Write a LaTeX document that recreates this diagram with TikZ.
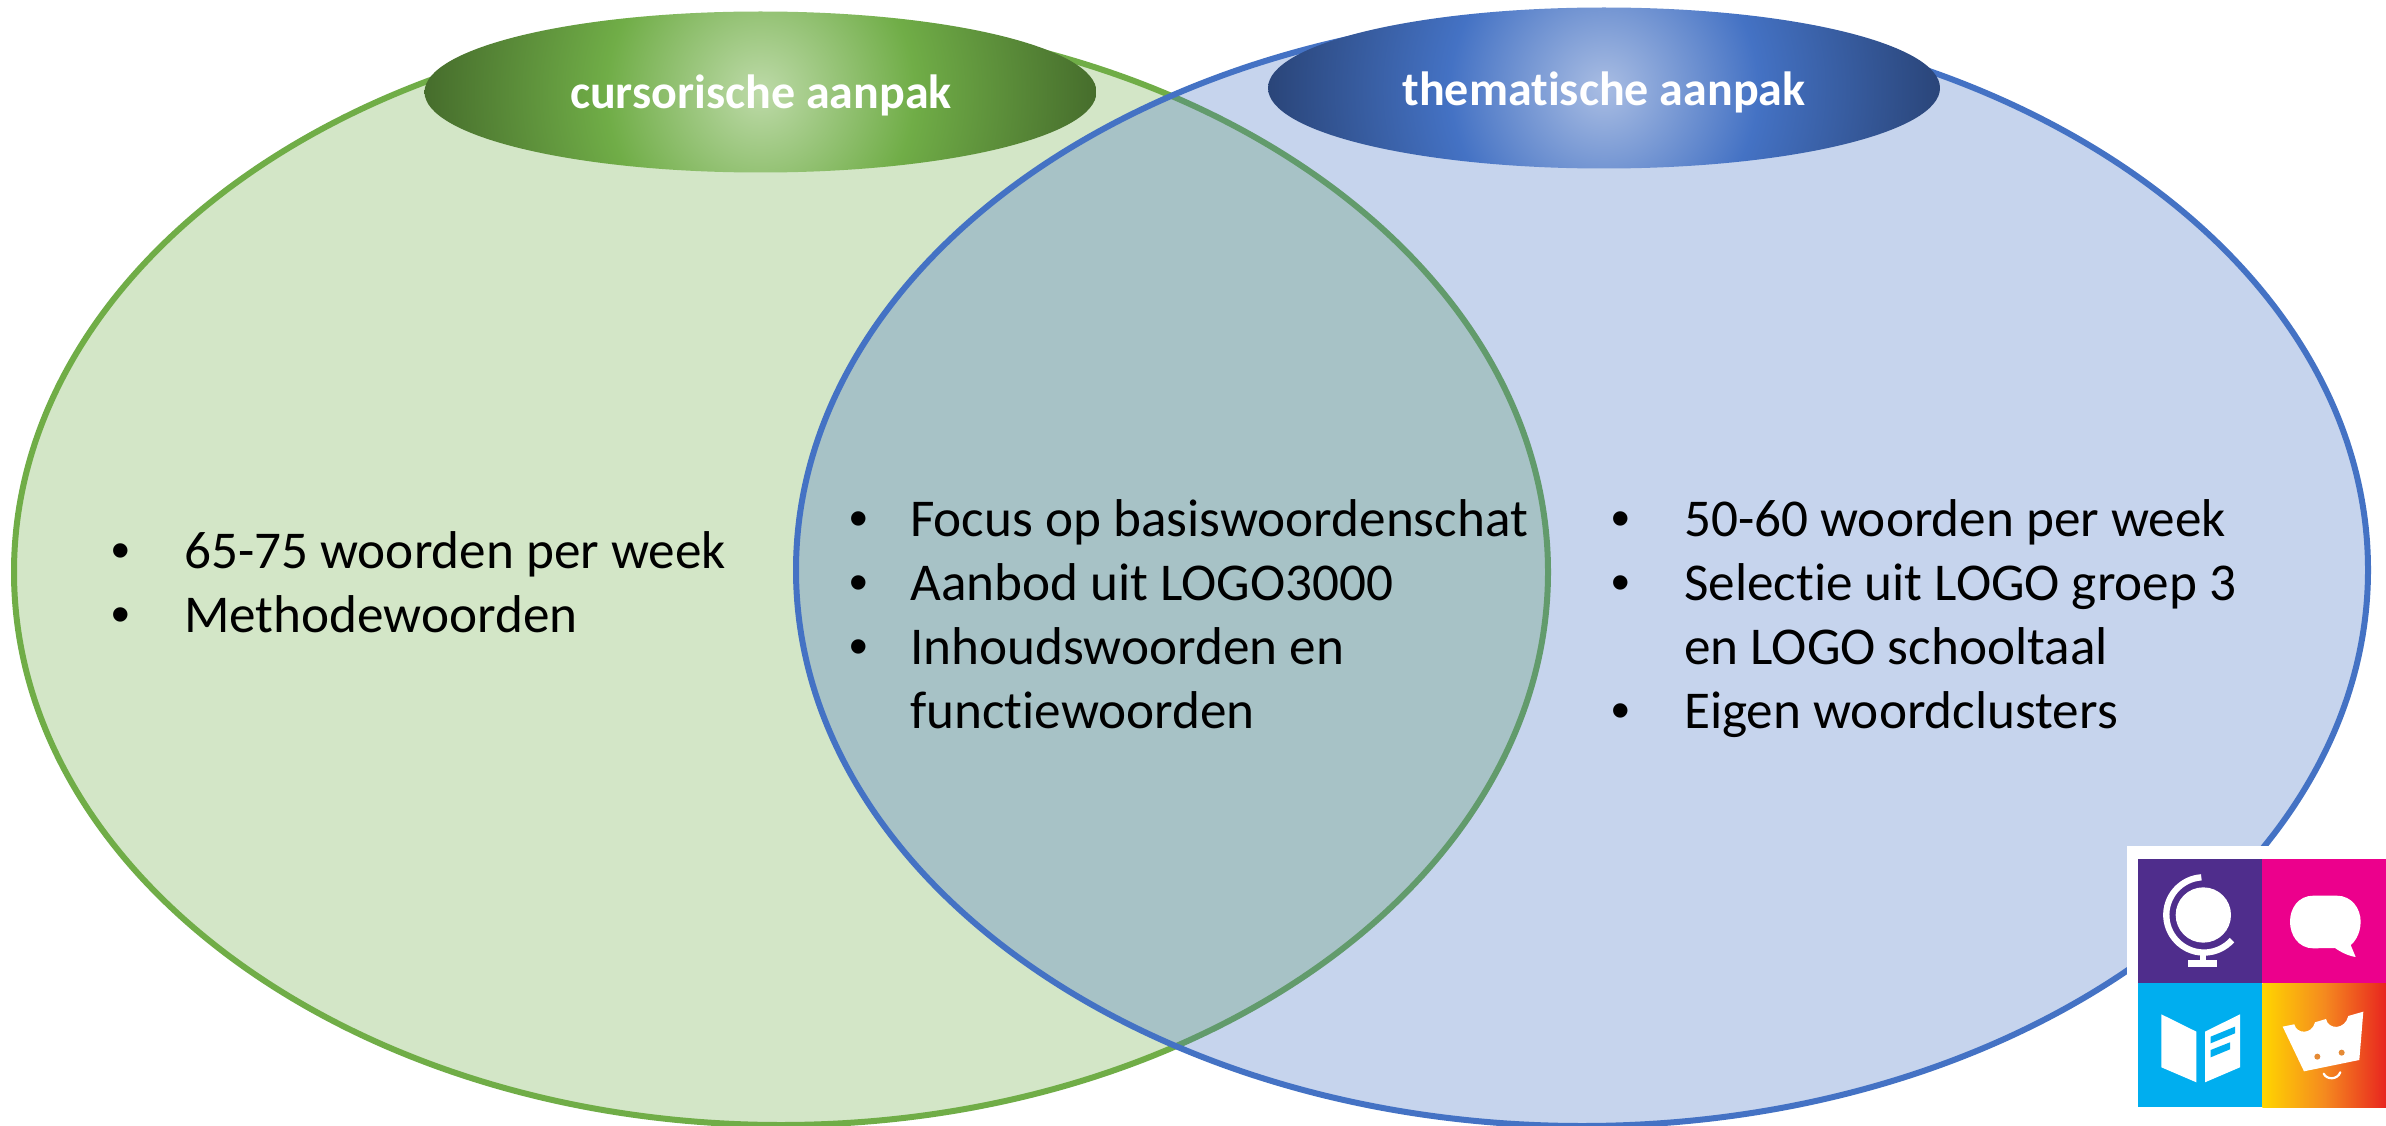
\documentclass[tikz,border=0pt]{standalone}
\usepackage{fontspec}
\setmainfont[RawFeature={-liga}]{Carlito}
\newfontfamily\bulfont{Liberation Sans}
\usetikzlibrary{shapes.geometric,calc}
\definecolor{grn}{HTML}{70AD47}
\definecolor{blu}{HTML}{4472C4}
\definecolor{grnc}{HTML}{BDDAA8}
\definecolor{grnd}{HTML}{466D2C}
\definecolor{bluc}{HTML}{A9BDE3}
\definecolor{blud}{HTML}{2A4579}
\definecolor{lgp}{HTML}{4F2D8C}
\definecolor{lgk}{HTML}{EC008C}
\definecolor{lgc}{HTML}{00AEEF}
\definecolor{lgy}{HTML}{FFD500}
\definecolor{lgo}{HTML}{F58A1F}
\definecolor{lgr}{HTML}{E8251F}
\definecolor{eye}{HTML}{E58A35}
\pgfdeclareradialshading{grnrad}{\pgfpoint{0bp}{0bp}}{color(0bp)=(grnc); color(11.5bp)=(grn); color(25bp)=(grnd); color(50bp)=(grnd)}
\pgfdeclareradialshading{blurad}{\pgfpoint{0bp}{0bp}}{color(0bp)=(bluc); color(11.5bp)=(blu); color(25bp)=(blud); color(50bp)=(blud)}
\tikzset{
 venn/.style={line width=6pt},
 hdr/.style={ellipse,inner sep=0pt,minimum width=672pt,minimum height=161pt},
 hdrtext/.style={inner sep=0pt,text=white,font=\fontsize{48}{56}\selectfont\bfseries},
 item/.style={anchor=base west,inner sep=0pt,font=\fontsize{53.2}{64}\selectfont,text=black},
 bul/.style={anchor=base west,inner sep=0pt,font=\bulfont\fontsize{53}{64}\selectfont,text=black},
 ic/.style={fill=white,draw=none}
}
\newcommand{\radfill}[1]{\shade[shading=#1,shift={(path picture bounding box.center)}] (-336,-336) rectangle (336,336);}
\begin{document}
\begin{tikzpicture}[x=1pt,y=-1pt]
\useasboundingbox (0,0) rectangle (2386,1126);
\fill[white] (0,0) rectangle (2386,1126);
% Venn
\path[venn,draw=grn,fill=grn,fill opacity=0.3] (781,572) ellipse [x radius=767,y radius=553];
\path[venn,draw=blu,fill=blu,fill opacity=0.3] (1582,570) ellipse [x radius=786,y radius=556];
% Headers
\node[hdr,path picture={\radfill{grnrad}}] (hg) at (760.5,92) {};
\node[hdr,path picture={\radfill{blurad}}] (hb) at (1604,88) {};
\node[hdrtext] (tg) at (761,95) {cursorische aanpak};
\node[hdrtext] (tb) at (1604,92) {thematische aanpak};
% Left
\node[bul] (l1b) at (111,568) {•};
\node[item] (l1) at (184,568) {65-75 woorden per week};
\node[bul] (l2b) at (111,632) {•};
\node[item] (l2) at (184,632) {Methodewoorden};
% Middle
\node[bul] (m1b) at (849,536) {•};
\node[item] (m1) at (910,536) {Focus op basiswoordenschat};
\node[bul] (m2b) at (849,600) {•};
\node[item] (m2) at (910,600) {Aanbod uit LOGO3000};
\node[bul] (m3b) at (849,664) {•};
\node[item] (m3) at (910,664) {Inhoudswoorden en};
\node[item] (m4) at (910,728) {functiewoorden};
% Right
\node[bul] (r1b) at (1611,536) {•};
\node[item] (r1) at (1684,536) {50-60 woorden per week};
\node[bul] (r2b) at (1611,600) {•};
\node[item] (r2) at (1684,600) {Selectie uit LOGO groep 3};
\node[item] (r3) at (1684,664) {en LOGO schooltaal};
\node[bul] (r4b) at (1611,728) {•};
\node[item] (r4) at (1684,728) {Eigen woordclusters};
% Logo
\fill[white] (2127,846) rectangle (2386,1126);
\fill[lgp] (2138,859) rectangle (2262.3,983);
\fill[lgk] (2262.3,859) rectangle (2386,983);
\fill[lgc] (2138,983) rectangle (2262.3,1107);
\shade[left color=lgy,right color=lgr,middle color=lgo] (2262.3,983) rectangle (2386,1107);
\begin{scope}[shift={(2100,830)},x=0.3333pt,y=-0.3333pt]
 % globe
 \fill[ic] (310,255) circle [radius=83];
 \draw[white,line width=6.3pt] (304,142) arc[start angle=266,end angle=42,radius=113];
 \fill[ic] (300,365) rectangle (317,395);
 \fill[ic] (265,390) rectangle (351,412);
 % speech bubble
 \fill[ic] (640,197) -- (710,197)
   .. controls (755,197) and (782,235) .. (782,275)
   .. controls (782,315) and (760,340) .. (752,345)
   -- (767,381)
   .. controls (745,378) and (720,365) .. (705,354)
   -- (640,355)
   .. controls (595,355) and (570,315) .. (570,275)
   .. controls (570,235) and (595,197) .. (640,197) -- cycle;
 % book
 \fill[ic] (184,553) -- (289,605) -- (289,757) -- (184,712) -- cycle;
 \fill[ic] (315,605) -- (420,553) -- (420,712) -- (315,757) -- cycle;
 \fill[lgc] (332,620) -- (405,590) -- (405,610) -- (332,640) -- cycle;
 \fill[lgc] (332,660) -- (390,637) -- (390,658) -- (332,682) -- cycle;
 % crown
 \fill[ic] (548,590) -- (583,583)
   .. controls (590,612) and (635,615) .. (645,577)
   -- (678,567)
   .. controls (685,600) and (735,600) .. (745,558)
   -- (790,545) -- (778,690) -- (612,724) -- cycle;
 \fill[eye] (652,680) circle [radius=9];
 \fill[eye] (725,668) circle [radius=9];
 \draw[white,line width=2.2pt,line cap=round] (671,731) .. controls (680,750) and (712,750) .. (721,727);
\end{scope}
\end{tikzpicture}
\end{document}
